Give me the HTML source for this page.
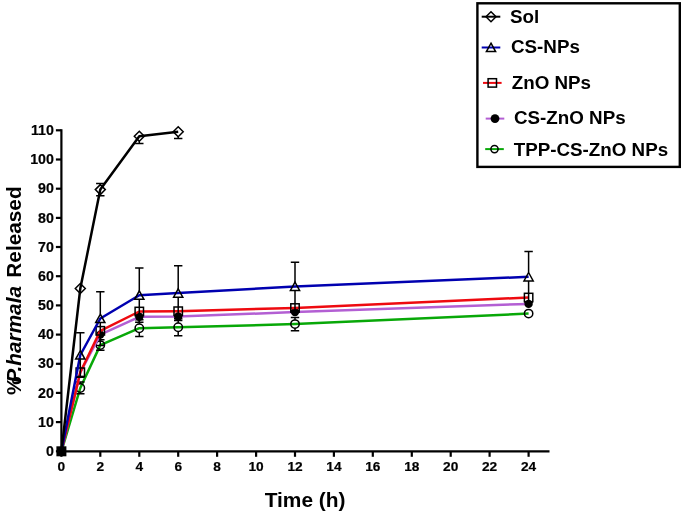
<!DOCTYPE html>
<html><head><meta charset="utf-8"><title>chart</title>
<style>
html,body{margin:0;padding:0;background:#fff;}
body{width:685px;height:515px;overflow:hidden;}
svg{display:block;will-change:transform;}
text{font-family:"Liberation Sans",sans-serif;font-weight:bold;fill:#000;}
</style></head><body>
<svg width="685" height="515" viewBox="0 0 685 515">
<rect width="685" height="515" fill="#fff"/>

<g stroke="#000" stroke-width="2.2" fill="none">
<path d="M61.4 129.2V452.4"/>
<path d="M60.3 451.3H549.5"/>
<path d="M55.9 451.3H61.4"/>
<path d="M55.9 422.1H61.4"/>
<path d="M55.9 392.9H61.4"/>
<path d="M55.9 363.8H61.4"/>
<path d="M55.9 334.6H61.4"/>
<path d="M55.9 305.4H61.4"/>
<path d="M55.9 276.2H61.4"/>
<path d="M55.9 247.0H61.4"/>
<path d="M55.9 217.9H61.4"/>
<path d="M55.9 188.7H61.4"/>
<path d="M55.9 159.5H61.4"/>
<path d="M55.9 130.3H61.4"/>
<path d="M61.4 451.3V456.8"/>
<path d="M100.3 451.3V456.8"/>
<path d="M139.3 451.3V456.8"/>
<path d="M178.2 451.3V456.8"/>
<path d="M217.1 451.3V456.8"/>
<path d="M256.1 451.3V456.8"/>
<path d="M295.0 451.3V456.8"/>
<path d="M333.9 451.3V456.8"/>
<path d="M372.8 451.3V456.8"/>
<path d="M411.8 451.3V456.8"/>
<path d="M450.7 451.3V456.8"/>
<path d="M489.6 451.3V456.8"/>
<path d="M528.6 451.3V456.8"/>
</g>
<g font-size="14.2" stroke="#000" stroke-width="0.2">
<text x="53.8" y="455.9" text-anchor="end">0</text>
<text x="53.8" y="426.7" text-anchor="end">10</text>
<text x="53.8" y="397.5" text-anchor="end">20</text>
<text x="53.8" y="368.4" text-anchor="end">30</text>
<text x="53.8" y="339.2" text-anchor="end">40</text>
<text x="53.8" y="310.0" text-anchor="end">50</text>
<text x="53.8" y="280.8" text-anchor="end">60</text>
<text x="53.8" y="251.6" text-anchor="end">70</text>
<text x="53.8" y="222.5" text-anchor="end">80</text>
<text x="53.8" y="193.3" text-anchor="end">90</text>
<text x="53.8" y="164.1" text-anchor="end">100</text>
<text x="53.8" y="134.9" text-anchor="end">110</text>
<text x="61.4" y="471.2" font-size="13.7" text-anchor="middle">0</text>
<text x="100.3" y="471.2" font-size="13.7" text-anchor="middle">2</text>
<text x="139.3" y="471.2" font-size="13.7" text-anchor="middle">4</text>
<text x="178.2" y="471.2" font-size="13.7" text-anchor="middle">6</text>
<text x="217.1" y="471.2" font-size="13.7" text-anchor="middle">8</text>
<text x="256.1" y="471.2" font-size="13.7" text-anchor="middle">10</text>
<text x="295.0" y="471.2" font-size="13.7" text-anchor="middle">12</text>
<text x="333.9" y="471.2" font-size="13.7" text-anchor="middle">14</text>
<text x="372.8" y="471.2" font-size="13.7" text-anchor="middle">16</text>
<text x="411.8" y="471.2" font-size="13.7" text-anchor="middle">18</text>
<text x="450.7" y="471.2" font-size="13.7" text-anchor="middle">20</text>
<text x="489.6" y="471.2" font-size="13.7" text-anchor="middle">22</text>
<text x="528.6" y="471.2" font-size="13.7" text-anchor="middle">24</text>
</g>
<text x="305.1" y="507.3" font-size="20.9" text-anchor="middle">Time (h)</text>
<text transform="translate(20.8 395) rotate(-90)" font-size="20.8">%<tspan dx="-6.2" font-style="italic">P.harmala</tspan><tspan dx="2.5"> Released</tspan></text>
<path d="M61.4 451.3L80.3 388.0L100.3 345.1L139.3 328.2L178.2 327.3L295.0 324.1L528.6 313.6" fill="none" stroke="#08a808" stroke-width="2.5" stroke-linejoin="round"/>
<g stroke="#000" stroke-width="1.5" fill="none">
<path d="M80.3 383.8V382.1M76.1 382.1h8.4"/>
<path d="M80.3 392.2V393.8M76.1 393.8h8.4"/>
<path d="M100.3 340.9V339.8M96.1 339.8h8.4"/>
<path d="M100.3 349.3V350.3M96.1 350.3h8.4"/>
<path d="M139.3 324.0V319.7M135.1 319.7h8.4"/>
<path d="M139.3 332.4V336.6M135.1 336.6h8.4"/>
<path d="M178.2 323.1V318.8M174.0 318.8h8.4"/>
<path d="M178.2 331.5V335.7M174.0 335.7h8.4"/>
<path d="M295.0 319.9V317.4M290.8 317.4h8.4"/>
<path d="M295.0 328.3V330.8M290.8 330.8h8.4"/>
</g>
<circle cx="80.3" cy="388.0" r="4.2" fill="none" stroke="#000" stroke-width="1.5"/>
<circle cx="100.3" cy="345.1" r="4.2" fill="none" stroke="#000" stroke-width="1.5"/>
<circle cx="139.3" cy="328.2" r="4.2" fill="none" stroke="#000" stroke-width="1.5"/>
<circle cx="178.2" cy="327.3" r="4.2" fill="none" stroke="#000" stroke-width="1.5"/>
<circle cx="295.0" cy="324.1" r="4.2" fill="none" stroke="#000" stroke-width="1.5"/>
<circle cx="528.6" cy="313.6" r="4.2" fill="none" stroke="#000" stroke-width="1.5"/>
<path d="M61.4 451.3L80.3 372.5L100.3 334.6L139.3 316.8L178.2 316.5L295.0 312.1L528.6 303.9" fill="none" stroke="#b35fd3" stroke-width="2.5" stroke-linejoin="round"/>
<g stroke="#000" stroke-width="1.5" fill="none">
</g>
<circle cx="100.3" cy="334.6" r="4.2" fill="#000"/>
<circle cx="139.3" cy="316.8" r="4.2" fill="#000"/>
<circle cx="178.2" cy="316.5" r="4.2" fill="#000"/>
<circle cx="295.0" cy="312.1" r="4.2" fill="#000"/>
<circle cx="528.6" cy="303.9" r="4.2" fill="#000"/>
<path d="M61.4 451.3L80.3 372.2L100.3 330.8L139.3 311.5L178.2 311.2L295.0 308.0L528.6 297.5" fill="none" stroke="#ee0a10" stroke-width="2.5" stroke-linejoin="round"/>
<g stroke="#000" stroke-width="1.5" fill="none">
</g>
<rect x="76.1" y="368.0" width="8.4" height="8.4" fill="none" stroke="#000" stroke-width="1.5"/>
<rect x="96.1" y="326.6" width="8.4" height="8.4" fill="none" stroke="#000" stroke-width="1.5"/>
<rect x="135.1" y="307.3" width="8.4" height="8.4" fill="none" stroke="#000" stroke-width="1.5"/>
<rect x="174.0" y="307.0" width="8.4" height="8.4" fill="none" stroke="#000" stroke-width="1.5"/>
<rect x="290.8" y="303.8" width="8.4" height="8.4" fill="none" stroke="#000" stroke-width="1.5"/>
<rect x="524.4" y="293.3" width="8.4" height="8.4" fill="none" stroke="#000" stroke-width="1.5"/>
<path d="M61.4 451.3L80.3 355.0L100.3 318.5L139.3 295.2L178.2 293.1L295.0 286.4L528.6 276.8" fill="none" stroke="#0000b0" stroke-width="2.5" stroke-linejoin="round"/>
<g stroke="#000" stroke-width="1.5" fill="none">
<path d="M80.3 350.8V332.8M76.1 332.8h8.4"/>
<path d="M80.3 359.2V377.2M76.1 377.2h8.4"/>
<path d="M100.3 314.3V291.7M96.1 291.7h8.4"/>
<path d="M100.3 322.7V345.4M96.1 345.4h8.4"/>
<path d="M139.3 291.0V268.0M135.1 268.0h8.4"/>
<path d="M139.3 299.4V322.3M135.1 322.3h8.4"/>
<path d="M178.2 288.9V265.7M174.0 265.7h8.4"/>
<path d="M178.2 297.3V320.6M174.0 320.6h8.4"/>
<path d="M295.0 282.2V262.2M290.8 262.2h8.4"/>
<path d="M295.0 290.6V310.7M290.8 310.7h8.4"/>
<path d="M528.6 272.6V251.4M524.4 251.4h8.4"/>
<path d="M528.6 281.0V302.2M524.4 302.2h8.4"/>
</g>
<path d="M80.3 350.7L84.9 359.1L75.7 359.1Z" fill="none" stroke="#000" stroke-width="1.5"/>
<path d="M100.3 314.2L104.9 322.6L95.7 322.6Z" fill="none" stroke="#000" stroke-width="1.5"/>
<path d="M139.3 290.9L143.9 299.3L134.7 299.3Z" fill="none" stroke="#000" stroke-width="1.5"/>
<path d="M178.2 288.8L182.8 297.2L173.6 297.2Z" fill="none" stroke="#000" stroke-width="1.5"/>
<path d="M295.0 282.1L299.6 290.5L290.4 290.5Z" fill="none" stroke="#000" stroke-width="1.5"/>
<path d="M528.6 272.5L533.2 280.9L524.0 280.9Z" fill="none" stroke="#000" stroke-width="1.5"/>
<path d="M61.4 451.3L80.3 288.5L100.3 189.6L139.3 136.2L178.2 131.8" fill="none" stroke="#000000" stroke-width="2.5" stroke-linejoin="round"/>
<g stroke="#000" stroke-width="1.5" fill="none">
<path d="M100.3 185.4V183.4M96.1 183.4h8.4"/>
<path d="M100.3 193.8V195.7M96.1 195.7h8.4"/>
<path d="M139.3 140.4V143.5M135.1 143.5h8.4"/>
<path d="M178.2 136.0V138.5M174.0 138.5h8.4"/>
</g>
<path d="M80.3 283.5L85.3 288.5L80.3 293.5L75.3 288.5Z" fill="none" stroke="#000" stroke-width="1.5"/>
<path d="M100.3 184.6L105.3 189.6L100.3 194.6L95.3 189.6Z" fill="none" stroke="#000" stroke-width="1.5"/>
<path d="M139.3 131.2L144.3 136.2L139.3 141.2L134.3 136.2Z" fill="none" stroke="#000" stroke-width="1.5"/>
<path d="M178.2 126.8L183.2 131.8L178.2 136.8L173.2 131.8Z" fill="none" stroke="#000" stroke-width="1.5"/>
<rect x="56.4" y="446.3" width="10" height="10" fill="#000"/>
<rect x="477.4" y="3.3" width="202.4" height="163.6" fill="#fff" stroke="#000" stroke-width="2.4"/>
<path d="M481.7 16.7h18.6" stroke="#000000" stroke-width="2" fill="none"/>
<path d="M491.0 11.7L496.0 16.7L491.0 21.7L486.0 16.7Z" fill="none" stroke="#000" stroke-width="1.5"/>
<text x="510.1" y="23.1" font-size="18.8">Sol</text>
<path d="M481.7 47.5h18.6" stroke="#0000b0" stroke-width="2" fill="none"/>
<path d="M491.0 43.2L495.6 51.6L486.4 51.6Z" fill="none" stroke="#000" stroke-width="1.5"/>
<text x="511.0" y="53.0" font-size="18.8">CS-NPs</text>
<path d="M483.0 82.9h18.6" stroke="#ee0a10" stroke-width="2" fill="none"/>
<rect x="488.1" y="78.7" width="8.4" height="8.4" fill="none" stroke="#000" stroke-width="1.5"/>
<text x="511.7" y="88.6" font-size="18.8">ZnO NPs</text>
<path d="M485.7 118.6h18.6" stroke="#b35fd3" stroke-width="2" fill="none"/>
<circle cx="495.0" cy="118.6" r="4.4" fill="#000"/>
<text x="514.0" y="124.2" font-size="18.8">CS-ZnO NPs</text>
<path d="M485.2 149.1h18.6" stroke="#08a808" stroke-width="2" fill="none"/>
<circle cx="494.5" cy="149.1" r="3.6" fill="none" stroke="#000" stroke-width="1.5"/>
<text x="513.7" y="155.5" font-size="18.8">TPP-CS-ZnO NPs</text>
</svg></body></html>
